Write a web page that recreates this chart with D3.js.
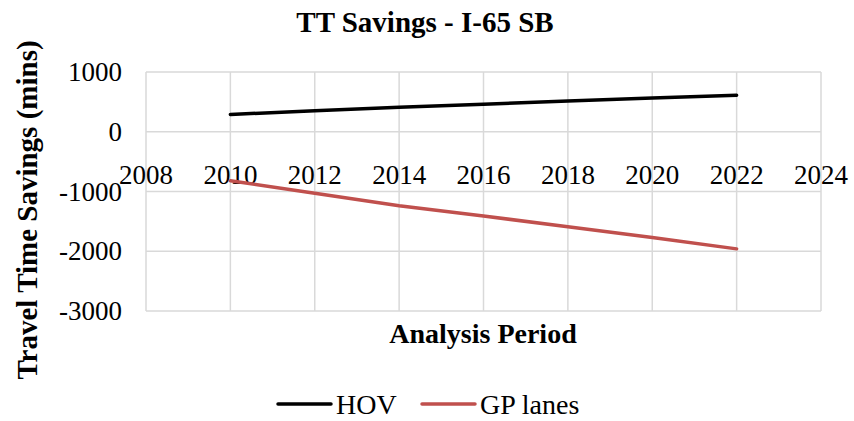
<!DOCTYPE html>
<html>
<head>
<meta charset="utf-8">
<script src="https://cdn.jsdelivr.net/npm/d3@7"></script>
<style>
  body { margin: 0; background: #fff; }
  text { font-family: "Liberation Serif", "Times New Roman", serif; fill: #000; }
</style>
</head>
<body>
<div id="chart"></div>
<script>
// data
const years = [2010, 2012, 2014, 2016, 2018, 2020, 2022];
const hovValues = [290, 350, 410, 460, 515, 565, 610];
const gpValues = [-820, -1030, -1240, -1410, -1590, -1770, -1960];
const xTicks = [2008, 2010, 2012, 2014, 2016, 2018, 2020, 2022, 2024];
const yTicks = [1000, 0, -1000, -2000, -3000];

const series = [
  {name: "HOV", values: hovValues, color: "#000000"},
  {name: "GP lanes", values: gpValues, color: "#c0504d"}
];

const width = 854, height = 421;
const margin = {top: 72, right: 33, bottom: 110, left: 146};

const svg = d3.select("#chart").append("svg")
  .attr("width", width)
  .attr("height", height);

const x = d3.scaleLinear().domain([2008, 2024]).range([margin.left, width - margin.right]);
const y = d3.scaleLinear().domain([-3000, 1000]).range([height - margin.bottom, margin.top]);

// gridlines
svg.append("g").selectAll("line.v")
  .data(xTicks)
  .join("line")
  .attr("x1", d => x(d)).attr("x2", d => x(d))
  .attr("y1", y(1000)).attr("y2", y(-3000))
  .attr("stroke", "#d9d9d9").attr("stroke-width", 1.5);

svg.append("g").selectAll("line.h")
  .data(yTicks)
  .join("line")
  .attr("x1", x(2008)).attr("x2", x(2024))
  .attr("y1", d => y(d)).attr("y2", d => y(d))
  .attr("stroke", "#d9d9d9").attr("stroke-width", 1.5);

// y tick labels
svg.append("g").selectAll("text")
  .data(yTicks)
  .join("text")
  .attr("x", x(2008) - 24)
  .attr("y", d => y(d) + 9)
  .attr("text-anchor", "end")
  .attr("font-size", 27)
  .text(d => d);

// x tick labels, sitting under the zero line
svg.append("g").selectAll("text")
  .data(xTicks)
  .join("text")
  .attr("x", d => x(d))
  .attr("y", y(0) + 52)
  .attr("text-anchor", "middle")
  .attr("font-size", 27)
  .text(d => d);

// lines
const line = d3.line()
  .x((d, i) => x(years[i]))
  .y(d => y(d));

svg.append("g").selectAll("path")
  .data(series)
  .join("path")
  .attr("d", s => line(s.values))
  .attr("fill", "none")
  .attr("stroke", s => s.color)
  .attr("stroke-width", 3.5)
  .attr("stroke-linecap", "round");

// title
svg.append("text")
  .attr("x", 425).attr("y", 32)
  .attr("text-anchor", "middle")
  .attr("font-size", 29).attr("font-weight", "bold")
  .text("TT Savings - I-65 SB");

// axis titles
svg.append("text")
  .attr("x", 483).attr("y", 343)
  .attr("text-anchor", "middle")
  .attr("font-size", 28).attr("font-weight", "bold")
  .text("Analysis Period");

svg.append("text")
  .attr("transform", "translate(37," + 210 + ") rotate(-90)")
  .attr("text-anchor", "middle")
  .attr("font-size", 29).attr("font-weight", "bold")
  .text("Travel Time Savings (mins)");

// legend
const legend = svg.append("g").selectAll("g")
  .data(series)
  .join("g")
  .attr("transform", (s, i) => "translate(" + (i === 0 ? 278 : 422) + ",404)");

legend.append("line")
  .attr("x1", 0).attr("x2", 53)
  .attr("stroke", s => s.color)
  .attr("stroke-width", 3.5)
  .attr("stroke-linecap", "round");

legend.append("text")
  .attr("x", 58).attr("y", 10)
  .attr("font-size", 28)
  .text(s => s.name);
</script>
</body>
</html>
